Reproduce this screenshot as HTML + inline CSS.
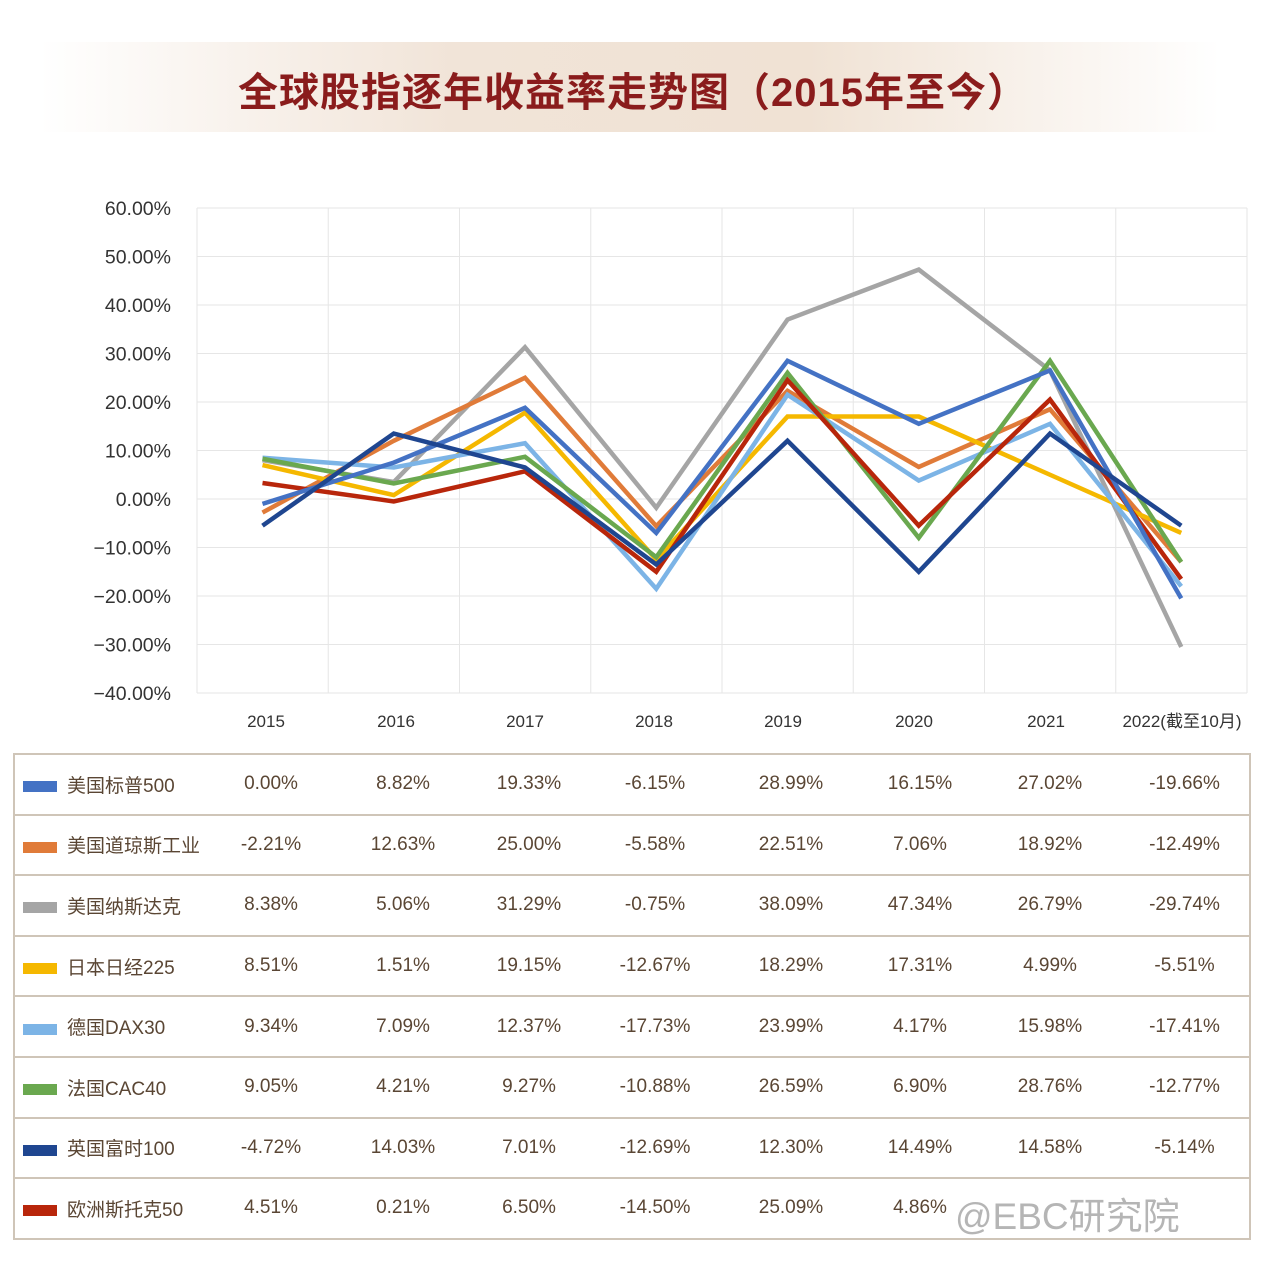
<!DOCTYPE html>
<html><head><meta charset="utf-8"><style>
body{margin:0;width:1266px;height:1280px;background:#fff;position:relative;overflow:hidden;font-family:"Liberation Sans","Noto Sans CJK SC",sans-serif}
.banner{position:absolute;left:40px;top:42px;width:1180px;height:90px;background:linear-gradient(90deg,rgba(255,255,255,0) 0%,#f1e4d8 35%,#f0e2d4 65%,rgba(255,255,255,0) 100%)}
.title{position:absolute;left:0;width:1266px;top:60px;text-align:center;font-size:40px;font-weight:bold;color:#8a1c1c;letter-spacing:1px}
table{position:absolute;left:13px;top:753px;width:1238px;border-collapse:collapse;color:#5a4634;font-size:19px;table-layout:fixed}
td{border-top:2px solid #cfc5b8;border-bottom:2px solid #cfc5b8;height:58.6px;text-align:center;padding:0}
table{border-left:2px solid #cfc5b8;border-right:2px solid #cfc5b8}
td.n{text-align:left}
.sw{display:inline-block;width:34px;height:11px;margin:0 10px 0 8px;vertical-align:middle}
</style></head><body>
<div class="banner"></div>
<div class="title">全球股指逐年收益率走势图（2015年至今）</div>
<svg width="1266" height="750" style="position:absolute;left:0;top:0" id="s">
<g stroke="#e6e6e6" stroke-width="1" id="grid"></g>
<g font-size="19.5" fill="#333" text-anchor="end" id="yl"></g>
<g font-size="17" fill="#333" text-anchor="middle" id="xl"></g>
<g id="ln" fill="none" stroke-width="4.5" stroke-linejoin="miter"></g>
</svg>
<table id="t"><colgroup><col style="width:192px"><col style="width:130px"><col style="width:134px"><col style="width:118px"><col style="width:134px"><col style="width:138px"><col style="width:120px"><col style="width:140px"><col></colgroup><tbody id="tb"></tbody></table>
<div style="position:absolute;left:955px;top:1186px;font-size:37px;color:rgba(120,120,120,0.55)">@EBC研究院</div>
<script>
var ns="http://www.w3.org/2000/svg";
function el(p,t,a,tx){var e=document.createElementNS(ns,t);for(var k in a)e.setAttribute(k,a[k]);if(tx)e.textContent=tx;document.getElementById(p).appendChild(e);}
for(var i=0;i<=10;i++){var y=208+i*48.5;el('grid','line',{x1:197,x2:1247,y1:y,y2:y});el('yl','text',{x:171,y:y+7},(60-10*i).toFixed(2).replace('-','−')+'%');}
for(var j=0;j<=8;j++){var x=197+j*131.25;el('grid','line',{x1:x,x2:x,y1:208,y2:693});}
var yrs=['2015','2016','2017','2018','2019','2020','2021','2022(截至10月)'];
var xs=[266,396,525,654,783,914,1046,1182];
yrs.forEach(function(y,i){el('xl','text',{x:xs[i],y:727},y);});
var S=[
['美国标普500','#4472c4',[-1,7.5,18.8,-7,28.5,15.5,26.5,-20.5]],
['美国道琼斯工业','#e07b39',[-2.8,12,25,-5.6,22.3,6.6,18.5,-13]],
['美国纳斯达克','#a5a5a5',[8,3.5,31.3,-1.8,37,47.3,26.5,-30.5]],
['日本日经225','#f5b800',[7,0.8,17.8,-12.5,17,17,5,-7]],
['德国DAX30','#7cb4e6',[8.5,6.5,11.5,-18.5,21.5,3.8,15.5,-18]],
['法国CAC40','#6aa84f',[8.3,3.2,8.7,-12,26,-8,28.5,-13]],
['英国富时100','#1f4690',[-5.5,13.5,6.5,-13.5,12,-15,13.5,-5.5]],
['欧洲斯托克50','#b8260b',[3.3,-0.5,5.7,-15,24.5,-5.5,20.5,-16.5]]];
var T=[
['0.00%','8.82%','19.33%','-6.15%','28.99%','16.15%','27.02%','-19.66%'],
['-2.21%','12.63%','25.00%','-5.58%','22.51%','7.06%','18.92%','-12.49%'],
['8.38%','5.06%','31.29%','-0.75%','38.09%','47.34%','26.79%','-29.74%'],
['8.51%','1.51%','19.15%','-12.67%','18.29%','17.31%','4.99%','-5.51%'],
['9.34%','7.09%','12.37%','-17.73%','23.99%','4.17%','15.98%','-17.41%'],
['9.05%','4.21%','9.27%','-10.88%','26.59%','6.90%','28.76%','-12.77%'],
['-4.72%','14.03%','7.01%','-12.69%','12.30%','14.49%','14.58%','-5.14%'],
['4.51%','0.21%','6.50%','-14.50%','25.09%','4.86%','','']];
var order=[2,1,3,4,5,7,0,6];
order.forEach(function(k){var s=S[k];var pts=s[2].map(function(v,i){return (262.5+131.25*i)+','+(499-v*4.85)}).join(' ');el('ln','polyline',{points:pts,stroke:s[1]});});
var h='';
S.forEach(function(s,k){h+='<tr><td class="n"><span class="sw" style="background:'+s[1]+'"></span>'+s[0]+'</td>';T[k].forEach(function(v){h+='<td>'+v+'</td>';});h+='</tr>';});
document.getElementById('tb').innerHTML=h;
</script>
</body></html>
